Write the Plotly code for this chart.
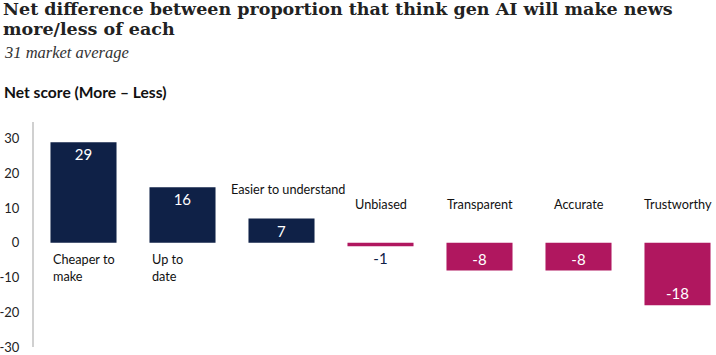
import plotly.graph_objects as go

categories = ["Cheaper to<br>make", "Up to<br>date", "Easier to understand", "Unbiased",
              "Transparent", "Accurate", "Trustworthy"]
values = [29, 16, 7, -1, -8, -8, -18]
tick_vals = [-30, -20, -10, 0, 10, 20, 30]
tick_text = ["-30", "-20", "-10", "0", "10", "20", "30"]

# label placement styles (not data)
label_mode = ["below", "below", "above", "top", "top", "top", "top"]

NAVY = "#0f2147"
MAGENTA = "#b0175f"
colors = [NAVY if v >= 0 else MAGENTA for v in values]

W, H = 716, 355
L, R, T, B = 34, 0, 122, 8
pw = W - L - R
ph = H - T - B

def px_x(px):
    return (px - L) / pw

def px_y(py):
    return (H - B - py) / ph

x = list(range(len(values)))

fig = go.Figure()
fig.add_trace(go.Bar(
    x=x, y=values, marker=dict(color=colors, line=dict(width=0)),
    width=0.667,
    text=[str(v) for v in values], textposition="auto", insidetextanchor="end",
    insidetextfont=dict(color="white", size=15, family="Lato"),
    outsidetextfont=dict(color=NAVY, size=15, family="Lato"),
    textangle=0, constraintext="none", cliponaxis=False,
    hoverinfo="skip",
))

font_lbl = dict(family="Lato", size=12.7, color="#111111")
anns = []
for i, (c, v, m) in enumerate(zip(categories, values, label_mode)):
    if m == "below":
        anns.append(dict(x=i - 0.333, y=0, xref="x", yref="y", text=c, showarrow=False,
                         xanchor="left", yanchor="top", yshift=-6, align="left", font=font_lbl))
    elif m == "above":
        anns.append(dict(x=i, y=v, xref="x", yref="y", text=c, showarrow=False,
                         xanchor="center", yanchor="bottom", yshift=20, xshift=6, font=font_lbl))
    else:
        anns.append(dict(x=i, y=11.3, xref="x", yref="y", text=c, showarrow=False,
                         xanchor="center", yanchor="middle", font=font_lbl))

anns.append(dict(x=px_x(1), y=px_y(21), xref="paper", yref="paper", xanchor="left", yanchor="bottom",
                 showarrow=False, align="left",
                 text="<b>Net difference between proportion that think gen AI will make news</b>",
                 font=dict(family="DejaVu Serif", size=17.5, color="#222222")))
anns.append(dict(x=px_x(1), y=px_y(41), xref="paper", yref="paper", xanchor="left", yanchor="bottom",
                 showarrow=False, align="left",
                 text="<b>more/less of each</b>",
                 font=dict(family="DejaVu Serif", size=17.5, color="#222222")))
anns.append(dict(x=px_x(2), y=px_y(64), xref="paper", yref="paper", xanchor="left", yanchor="bottom",
                 showarrow=False, align="left",
                 text="<i>31 market average</i>",
                 font=dict(family="Liberation Serif", size=16.5, color="#333333")))
anns.append(dict(x=px_x(2), y=px_y(92), xref="paper", yref="paper", xanchor="left", yanchor="middle",
                 showarrow=False, align="left",
                 text="<b>Net score (More – Less)</b>",
                 font=dict(family="Lato", size=15.6, color="#111111")))

fig.update_layout(
    width=W, height=H,
    margin=dict(l=L, r=R, t=T, b=B),
    paper_bgcolor="white", plot_bgcolor="white",
    showlegend=False,
    annotations=anns,
    xaxis=dict(range=[-0.5, -0.5 + pw / 99.0], showticklabels=False, showgrid=False,
               zeroline=False, showline=False, fixedrange=True),
    yaxis=dict(range=[-30, 34.8], tickvals=tick_vals, ticktext=tick_text, showgrid=False,
               zeroline=False, showline=True, linecolor="#d0d0d0", linewidth=2,
               ticks="", ticklabelstandoff=10, fixedrange=True,
               tickfont=dict(family="Lato", size=13, color="#222222")),
)

fig.write_html("out.html", config={"displayModeBar": False},
               post_script="document.body.style.margin='0';")
